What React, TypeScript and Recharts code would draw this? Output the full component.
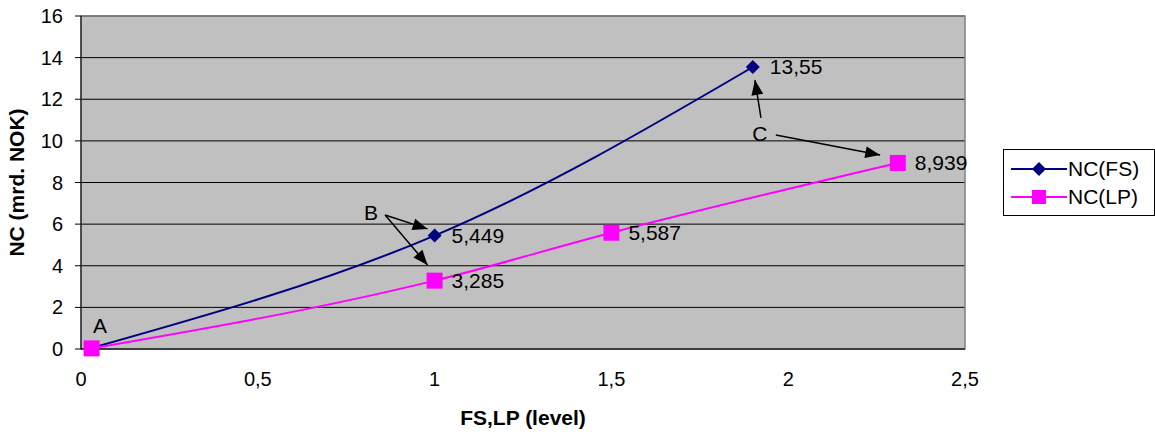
import React from 'react';
import {
  LineChart,
  Line,
  XAxis,
  YAxis,
  CartesianGrid,
  LabelList,
  ReferenceArea,
  ReferenceLine,
  ReferenceDot,
} from 'recharts';

// values
const fsLevels = [0.03, 1, 1.9];
const fsValues = [0.05, 5.449, 13.55];
const lpLevels = [0.03, 1, 1.5, 2.31];
const lpValues = [0.03, 3.285, 5.587, 8.939];
const xTicks = [0, 0.5, 1, 1.5, 2, 2.5];
const yTicks = [0, 2, 4, 6, 8, 10, 12, 14, 16];

// annotation letters and arrows (data coordinates)
const letters = [
  { text: 'A', x: 0.054, y: 1.15 },
  { text: 'B', x: 0.82, y: 6.58 },
  { text: 'C', x: 1.92, y: 10.33 },
];
const arrows = [
  { from: [0.86, 6.44], to: [0.98, 5.77] },
  { from: [0.86, 6.44], to: [0.98, 4.04] },
  { from: [1.923, 11.1], to: [1.906, 12.92] },
  { from: [1.965, 10.28], to: [2.26, 9.32] },
];

const fsData = fsLevels.map((x, i) => ({ x, y: fsValues[i] }));
const lpData = lpLevels.map((x, i) => ({ x, y: lpValues[i] }));

const FONT = '"Liberation Sans", Arial, sans-serif';
const comma = (v: number) => String(v).replace('.', ',');

const Diamond = (props: any) => {
  const { cx, cy } = props;
  if (cx == null || cy == null) return null;
  const r = 7;
  return (
    <polygon
      points={`${cx},${cy - r} ${cx + r},${cy} ${cx},${cy + r} ${cx - r},${cy}`}
      fill="#000080"
    />
  );
};

const Square = (props: any) => {
  const { cx, cy } = props;
  if (cx == null || cy == null) return null;
  const s = 8;
  return <rect x={cx - s} y={cy - s} width={s * 2} height={s * 2} fill="#FF00FF" />;
};

const pointLabel = (props: any) => {
  const { x, y, value } = props;
  if (value == null || value < 1) return null;
  return (
    <text x={x + 17} y={y} dy={7} fontSize={21} fontFamily={FONT} fill="#000">
      {comma(value)}
    </text>
  );
};

const arrowShape = (props: any) => {
  const { x1, y1, x2, y2 } = props;
  if (x1 == null) return null;
  const ang = Math.atan2(y2 - y1, x2 - x1);
  const len = 16;
  const w = 0.38;
  const p1 = [x2 - len * Math.cos(ang - w), y2 - len * Math.sin(ang - w)];
  const p2 = [x2 - len * Math.cos(ang + w), y2 - len * Math.sin(ang + w)];
  return (
    <g>
      <line x1={x1} y1={y1} x2={x2} y2={y2} stroke="#000" strokeWidth={1.5} />
      <polygon points={`${x2},${y2} ${p1[0]},${p1[1]} ${p2[0]},${p2[1]}`} fill="#000" />
    </g>
  );
};

const LegendBox = () => (
  <div
    style={{
      position: 'absolute',
      left: 1003,
      top: 149,
      border: '1px solid #000',
      background: '#fff',
      width: 152,
      height: 67,
      boxSizing: 'border-box',
      fontFamily: FONT,
      fontSize: 21,
      padding: '5px 0 0 7px',
    }}
  >
    {[
      { name: 'NC(FS)', color: '#000080', sq: false },
      { name: 'NC(LP)', color: '#FF00FF', sq: true },
    ].map((it) => (
      <div key={it.name} style={{ display: 'flex', alignItems: 'center', height: 28 }}>
        <svg width={56} height={20}>
          <line x1={0} y1={10} x2={56} y2={10} stroke={it.color} strokeWidth={2} />
          {it.sq ? (
            <rect x={21} y={3} width={14} height={14} fill={it.color} />
          ) : (
            <polygon points="28,3 35,10 28,17 21,10" fill={it.color} />
          )}
        </svg>
        <span style={{ marginLeft: 1 }}>{it.name}</span>
      </div>
    ))}
  </div>
);

export default function App() {
  return (
    <div style={{ position: 'absolute', left: 0, top: 0, width: 1155, height: 432, background: '#fff' }}>
      <LineChart
        width={1155}
        height={432}
        margin={{ top: 16, right: 190, bottom: 33, left: 0 }}
      >
        <CartesianGrid vertical={false} fill="#C0C0C0" stroke="#000" strokeOpacity={1} />
        <XAxis
          type="number"
          dataKey="x"
          domain={[0, 2.5]}
          ticks={xTicks}
          tickFormatter={comma}
          height={50}
          axisLine={{ stroke: '#000' }}
          tickLine={false}
          tick={{ fontSize: 20, fontFamily: FONT, fill: '#000' }}
          tickMargin={17}
          allowDataOverflow
          label={{
            value: 'FS,LP (level)',
            position: 'insideBottom',
            offset: -26,
            style: { fontSize: 21, fontWeight: 'bold', fontFamily: FONT, fill: '#000' },
          }}
        />
        <YAxis
          type="number"
          domain={[0, 16]}
          ticks={yTicks}
          width={81}
          axisLine={{ stroke: '#000' }}
          tickLine={{ stroke: '#000' }}
          tickSize={6}
          tickMargin={12}
          tick={{ fontSize: 20, fontFamily: FONT, fill: '#000' }}
          label={{
            value: 'NC (mrd. NOK)',
            angle: -90,
            position: 'insideLeft',
            offset: 17,
            style: {
              textAnchor: 'middle',
              fontSize: 21,
              fontWeight: 'bold',
              fontFamily: FONT,
              fill: '#000',
            },
          }}
        />
        <ReferenceArea x1={0} x2={2.5} y1={0} y2={16} fill="none" stroke="#808080" strokeWidth={1.5} />
        <Line
          data={fsData}
          dataKey="y"
          name="NC(FS)"
          type="natural"
          stroke="#000080"
          strokeWidth={2}
          dot={<Diamond />}
          activeDot={false}
          isAnimationActive={false}
        >
          <LabelList dataKey="y" content={pointLabel} />
        </Line>
        <Line
          data={lpData}
          dataKey="y"
          name="NC(LP)"
          type="monotone"
          stroke="#FF00FF"
          strokeWidth={2}
          dot={<Square />}
          activeDot={false}
          isAnimationActive={false}
        >
          <LabelList dataKey="y" content={pointLabel} />
        </Line>
        {arrows.map((a, i) => (
          <ReferenceLine
            key={i}
            segment={[
              { x: a.from[0], y: a.from[1] },
              { x: a.to[0], y: a.to[1] },
            ]}
            shape={arrowShape}
            ifOverflow="visible"
          />
        ))}
        {letters.map((l) => (
          <ReferenceDot
            key={l.text}
            x={l.x}
            y={l.y}
            r={0}
            stroke="none"
            fill="none"
            label={{
              value: l.text,
              position: 'center',
              style: { fontSize: 21, fontFamily: FONT, fill: '#000' },
            }}
          />
        ))}
      </LineChart>
      <LegendBox />
    </div>
  );
}
